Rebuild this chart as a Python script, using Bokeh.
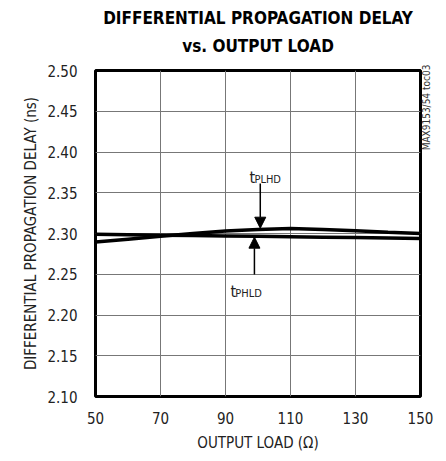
import math
from bokeh.plotting import figure
from bokeh.models import (Label, Arrow, NormalHead, FixedTicker, Title,
                          CustomJSTickFormatter, LinearAxis)
from bokeh.embed import file_html
from bokeh.resources import INLINE

# Data
load = [50, 60, 70, 80, 90, 100, 110, 120, 130, 140, 150]
t_plhd = [2.2895, 2.293, 2.2965, 2.300, 2.303, 2.305, 2.306, 2.305, 2.3035, 2.3015, 2.300]
t_phld = [2.299, 2.2985, 2.298, 2.2975, 2.297, 2.2965, 2.296, 2.2955, 2.295, 2.2945, 2.294]
x_ticks = [50, 70, 90, 110, 130, 150]
y_ticks = [2.10, 2.15, 2.20, 2.25, 2.30, 2.35, 2.40, 2.45, 2.50]
side_id = "MAX9153/54 toc03"
side_id_pos = 2.402

FONT = "DejaVu Sans Condensed"

p = figure(width=440, height=455, x_range=(50, 150), y_range=(2.10, 2.50),
           output_backend="svg", toolbar_location=None,
           min_border_left=95, min_border_right=16, min_border_top=70, min_border_bottom=59)
p.background_fill_color = "white"
p.border_fill_color = "white"
p.outline_line_color = "black"
p.outline_line_width = 3

p.xaxis.ticker = FixedTicker(ticks=x_ticks)
p.yaxis.ticker = FixedTicker(ticks=y_ticks)
p.yaxis.formatter = CustomJSTickFormatter(code="return tick.toFixed(2);")

for ax in (p.xaxis, p.yaxis):
    ax.axis_line_color = None
    ax.major_tick_line_color = None
    ax.minor_tick_line_color = None
    ax.major_tick_out = 0
    ax.major_tick_in = 0
    ax.minor_tick_out = 0
    ax.major_label_text_font = FONT
    ax.major_label_text_font_size = "15px"
    ax.major_label_text_color = "#222222"
    ax.axis_label_text_font = FONT
    ax.axis_label_text_font_style = "normal"
    ax.axis_label_text_color = "#222222"

p.xaxis.major_label_standoff = 15
p.yaxis.major_label_standoff = 18
p.xaxis.axis_label = "OUTPUT LOAD (Ω)"
p.xaxis.axis_label_text_font_size = "15px"
p.xaxis.axis_label_standoff = 7
p.yaxis.axis_label = "DIFFERENTIAL PROPAGATION DELAY (ns)"
p.yaxis.axis_label_text_font_size = "15px"
p.yaxis.axis_label_standoff = 4

p.xgrid.grid_line_color = "#777777"
p.ygrid.grid_line_color = "#777777"
p.xgrid.grid_line_width = 1
p.ygrid.grid_line_width = 1

p.line(load, t_plhd, line_color="black", line_width=3.5)
p.line(load, t_phld, line_color="black", line_width=3.5)

# arrows
p.add_layout(Arrow(end=NormalHead(size=11, fill_color="black", line_color="black"),
                   x_start=100.7, y_start=2.3613, x_end=100.7, y_end=2.3065,
                   line_color="black", line_width=1.5))
p.add_layout(Arrow(end=NormalHead(size=11, fill_color="black", line_color="black"),
                   x_start=98.9, y_start=2.2497, x_end=98.9, y_end=2.2955,
                   line_color="black", line_width=1.5))

def sub_label(x, y, main, sub):
    p.add_layout(Label(x=x, y=y, text=main, text_font=FONT, text_font_size="16px",
                       text_color="#222222", text_baseline="alphabetic"))
    p.add_layout(Label(x=x + 1.5, y=y - 0.003, text=sub, text_font=FONT, text_font_size="11px",
                       text_color="#222222", text_baseline="alphabetic"))

sub_label(97.4, 2.3687, "t", "PLHD")
sub_label(91.5, 2.2288, "t", "PHLD")

# titles (added nearest-first); a small blank spacer sits next to the frame
p.title.visible = False
p.add_layout(Title(text=" ", text_font=FONT, text_font_size="5px", standoff=0), "above")
p.add_layout(Title(text="vs. OUTPUT LOAD", text_font=FONT, text_font_size="17px",
                   text_font_style="bold", align="center", text_color="black",
                   standoff=13), "above")
p.add_layout(Title(text="DIFFERENTIAL PROPAGATION DELAY", text_font=FONT, text_font_size="17px",
                   text_font_style="bold", align="center", text_color="black",
                   standoff=0), "above")

# side id as a rotated single tick label on a right axis
side = LinearAxis(ticker=FixedTicker(ticks=[side_id_pos]),
                  major_label_overrides={side_id_pos: side_id},
                  major_label_orientation=math.pi / 2,
                  axis_line_color=None, major_tick_line_color=None,
                  minor_tick_line_color=None, major_tick_out=0, major_tick_in=0,
                  major_label_standoff=6, major_label_text_font=FONT,
                  major_label_text_font_size="10px", major_label_text_color="#333333")
p.add_layout(side, "right")

open("out.html", "w").write(file_html(p, INLINE))
